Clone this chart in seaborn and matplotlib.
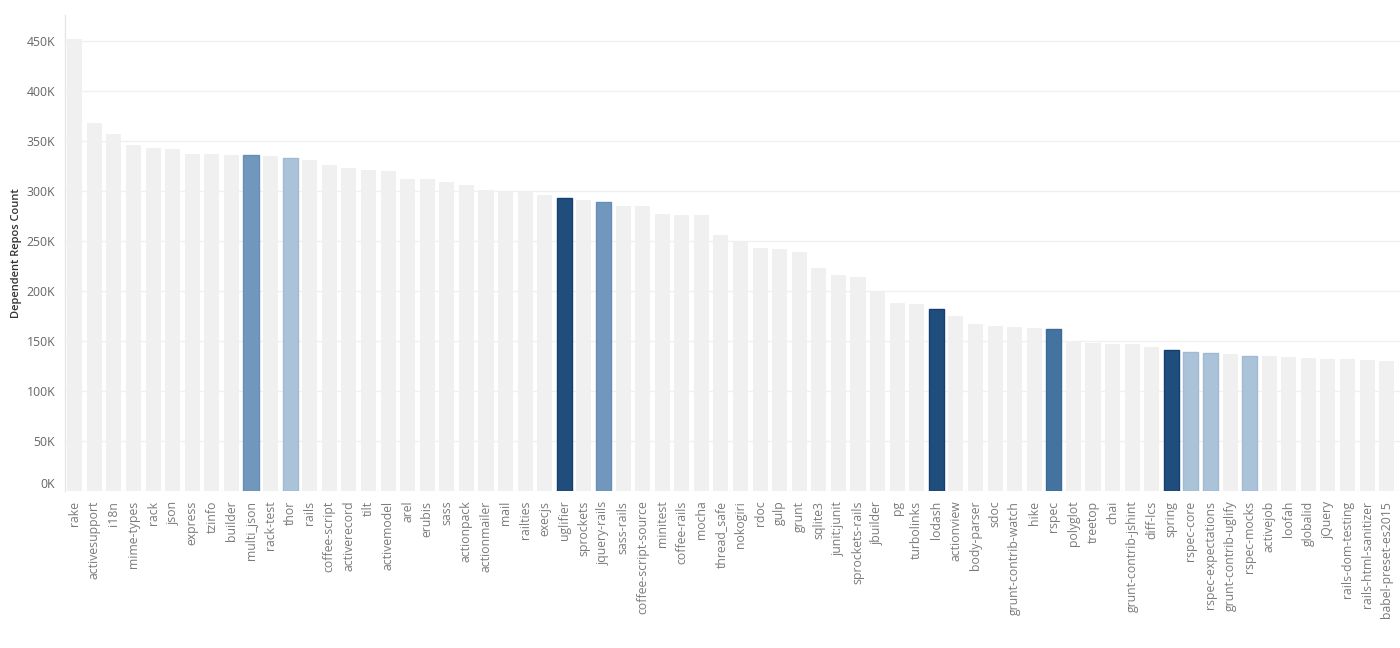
import matplotlib
matplotlib.use("Agg")
import matplotlib.pyplot as plt
import matplotlib.transforms as mtransforms
import seaborn as sns
import pandas as pd
import numpy as np
from matplotlib.ticker import FuncFormatter, FixedLocator

# packages and their dependent repos count (thousands)
packages = [
    "rake", "activesupport", "i18n", "mime-types", "rack", "json", "express",
    "tzinfo", "builder", "multi_json", "rack-test", "thor", "rails",
    "coffee-script", "activerecord", "tilt", "activemodel", "arel", "erubis",
    "sass", "actionpack", "actionmailer", "mail", "railties", "execjs",
    "uglifier", "sprockets", "jquery-rails", "sass-rails",
    "coffee-script-source", "minitest", "coffee-rails", "mocha", "thread_safe",
    "nokogiri", "rdoc", "gulp", "grunt", "sqlite3", "junit:junit",
    "sprockets-rails", "jbuilder", "pg", "turbolinks", "lodash", "actionview",
    "body-parser", "sdoc", "grunt-contrib-watch", "hike", "rspec", "polyglot",
    "treetop", "chai", "grunt-contrib-jshint", "diff-lcs", "spring",
    "rspec-core", "rspec-expectations", "grunt-contrib-uglify", "rspec-mocks",
    "activejob", "loofah", "globalid", "jQuery", "rails-dom-testing",
    "rails-html-sanitizer", "babel-preset-es2015",
]
counts_k = [
    452, 368, 357, 346, 343, 342, 337, 337, 336, 336, 335, 333, 331, 326, 323,
    321, 320, 312, 312, 309, 306, 301, 300, 299, 296, 293, 291, 289, 285, 285,
    277, 276, 276, 256, 250, 243, 242, 239, 223, 216, 214, 200, 188, 187, 182,
    175, 167, 165, 164, 163, 162, 150, 148, 147, 147, 144, 141, 139, 138, 137,
    135, 135, 134, 133, 132, 132, 131, 130,
]
y_ticks_k = [0, 50, 100, 150, 200, 250, 300, 350, 400, 450]
# highlight level of the packages that are coloured (others are 0)
highlight = {
    "multi_json": 2, "thor": 1, "uglifier": 4, "jquery-rails": 2,
    "lodash": 4, "rspec": 3, "spring": 4, "rspec-core": 1,
    "rspec-expectations": 1, "rspec-mocks": 1,
}

df = pd.DataFrame({"package": packages, "count": np.array(counts_k) * 1000})
df["level"] = [highlight.get(p, 0) for p in packages]

level_colors = {0: "#f0f0f0", 1: "#abc3d8", 2: "#7197bd", 3: "#44739f", 4: "#1f4e7d"}
level_edges = {0: "#f0f0f0", 1: "#a0bad3", 2: "#668eb6", 3: "#3a6a98", 4: "#143f70"}

sns.set_style("white")
plt.rcParams["font.family"] = ["Open Sans", "DejaVu Sans"]

fig = plt.figure(figsize=(14, 6.48), dpi=100)
ax = fig.add_axes([65 / 1400, 1 - 491 / 648, 1 - 65 / 1400, 476 / 648])

sns.barplot(
    data=df, x="package", y="count", hue="package",
    palette=[level_colors[l] for l in df["level"]], saturation=1,
    width=0.77, dodge=False, legend=False, ax=ax, zorder=2,
)
for bar, lvl in zip(ax.patches, df["level"]):
    bar.set_edgecolor(level_edges[lvl])
    bar.set_linewidth(1.0 if lvl else 0)

ax.set_xlim(-0.5, 67.68)
ax.set_ylim(0, 476000)
ax.yaxis.set_major_locator(FixedLocator([v * 1000 for v in y_ticks_k]))
ax.yaxis.set_major_formatter(FuncFormatter(lambda v, _: f"{int(v / 1000)}K"))
ax.grid(axis="y", color="#f0f0f0", linewidth=1, zorder=0)

for side in ["top", "right", "bottom"]:
    ax.spines[side].set_visible(False)
ax.spines["left"].set_color("#e6e6e6")
ax.spines["left"].set_linewidth(1)

ax.tick_params(axis="y", length=0, pad=7, labelsize=8.8, labelcolor="#666666")
ax.tick_params(axis="x", which="major", length=0, pad=7, labelsize=8.8,
               labelcolor="#7a7a7a", labelrotation=90)
ax.xaxis.set_minor_locator(FixedLocator(np.arange(len(packages)) + 0.5))
ax.tick_params(axis="x", which="minor", length=4, color="#e3e3e3", width=1)

ax.set_xlabel("")
ax.set_ylabel("Dependent Repos Count", fontsize=8, fontweight="semibold",
              color="#333333", labelpad=3)

# lift the 0K label a little, as in the original
fig.canvas.draw()
zero_tick = ax.yaxis.get_major_ticks()[0]
zero_tick.label1.set_transform(
    zero_tick.label1.get_transform()
    + mtransforms.ScaledTranslation(0, 6 / 72, fig.dpi_scale_trans)
)

fig.savefig("out.png", dpi=100)
